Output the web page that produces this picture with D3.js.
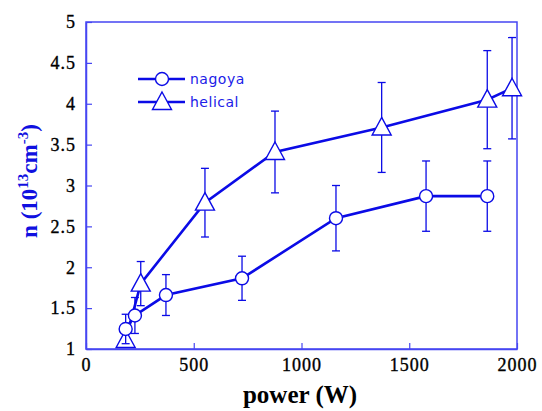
<!DOCTYPE html>
<html><head><meta charset="utf-8">
<script src="https://cdn.jsdelivr.net/npm/d3@7"></script>
<style>body{margin:0;background:#fff}</style>
</head><body><svg id="c" width="542" height="411"></svg>
<script>
const xTicks = [0, 500, 1000, 1500, 2000];
const yTicks = [1, 1.5, 2, 2.5, 3, 3.5, 4, 4.5, 5];
const yTickLabels = ["1", "1.5", "2", "2.5", "3", "3.5", "4", "4.5", "5"];

const nagoyaPower = [184, 227, 371, 724, 1160, 1578, 1862];
const nagoyaN     = [1.245, 1.41, 1.66, 1.865, 2.6, 2.87, 2.87];
const nagoyaErr   = [0.18, 0.22, 0.25, 0.27, 0.4, 0.43, 0.43];

const helicalPower = [184, 254, 552, 877, 1372, 1862, 1977];
const helicalN     = [1.11, 1.80, 2.79, 3.41, 3.71, 4.05, 4.19];
const helicalErr   = [0.08, 0.27, 0.42, 0.5, 0.55, 0.6, 0.62];

const seriesNames = ["nagoya", "helical"];

const svg = d3.select("#c");
const L = 86, R = 517, T = 22, B = 349;
const x = d3.scaleLinear().domain([0, 2000]).range([L, R]);
const y = d3.scaleLinear().domain([1, 5]).range([B, T]);
const lineCol = "#0b0be6", frameCol = "#4646f2";

// frame
svg.append("rect").attr("x", L).attr("y", T).attr("width", R - L).attr("height", B - T)
  .attr("fill", "none").attr("stroke", frameCol).attr("stroke-width", 1.5);

// axes with inward ticks
const xa = svg.append("g").attr("transform", `translate(0,${B})`)
  .call(d3.axisBottom(x).tickValues(xTicks).tickSizeInner(-6).tickSizeOuter(0).tickPadding(9).tickFormat(d3.format("d")));
const ya = svg.append("g").attr("transform", `translate(${L},0)`)
  .call(d3.axisLeft(y).tickValues(yTicks).tickSizeInner(-6).tickSizeOuter(0).tickPadding(10).tickFormat((d, i) => yTickLabels[i]));
[xa, ya].forEach(a => {
  a.select(".domain").attr("stroke", frameCol).attr("stroke-width", 1.5);
  a.selectAll(".tick line").attr("stroke", frameCol).attr("stroke-width", 1.2);
  a.selectAll(".tick text").attr("fill", "#000").attr("font-family", "Liberation Serif")
    .attr("font-size", 18).attr("letter-spacing", "1px").attr("stroke", "#000").attr("stroke-width", 0.35);
});
xa.selectAll(".tick text").attr("dy", "0.71em");

// titles
svg.append("text").attr("x", 300).attr("y", 403).attr("text-anchor", "middle")
  .attr("font-family", "Liberation Serif").attr("font-weight", "bold").attr("font-size", 25)
  .attr("fill", "#000").text("power (W)");
const yt = svg.append("text").attr("transform", "translate(37,181) rotate(-90)").attr("text-anchor", "middle")
  .attr("font-family", "Liberation Serif").attr("font-weight", "bold").attr("font-size", 23).attr("fill", "#1010e0");
yt.append("tspan").text("n (10");
yt.append("tspan").attr("font-size", 15).attr("dy", -9).text("13");
yt.append("tspan").attr("dy", 9).text("cm");
yt.append("tspan").attr("font-size", 15).attr("dy", -9).text("-3");
yt.append("tspan").attr("dy", 9).text(")");

const triPath = (cx, cy) => {
  const s = 10;
  return `M${cx},${cy - s} L${cx + s * 0.95},${cy + s * 0.75} L${cx - s * 0.95},${cy + s * 0.75} Z`;
};

function drawSeries(px, py, pe, kind) {
  const g = svg.append("g");
  const data = px.map((p, i) => ({p, n: py[i], e: pe[i]}));
  data.forEach(d => {
    const cx = x(d.p);
    g.append("line").attr("x1", cx).attr("x2", cx).attr("y1", y(d.n - d.e)).attr("y2", y(d.n + d.e))
      .attr("stroke", lineCol).attr("stroke-width", 1.3);
    [d.n - d.e, d.n + d.e].forEach(v => g.append("line").attr("x1", cx - 4).attr("x2", cx + 4)
      .attr("y1", y(v)).attr("y2", y(v)).attr("stroke", lineCol).attr("stroke-width", 1.3));
  });
  g.append("path").datum(data).attr("fill", "none").attr("stroke", lineCol).attr("stroke-width", 2.6)
    .attr("d", d3.line().x(d => x(d.p)).y(d => y(d.n)));
  data.forEach(d => {
    if (kind === "circle") g.append("circle").attr("cx", x(d.p)).attr("cy", y(d.n)).attr("r", 6.5)
      .attr("fill", "#fff").attr("stroke", lineCol).attr("stroke-width", 1.4);
    else g.append("path").attr("d", triPath(x(d.p), y(d.n))).attr("fill", "#fff")
      .attr("stroke", lineCol).attr("stroke-width", 1.4);
  });
}
drawSeries(helicalPower, helicalN, helicalErr, "tri");
drawSeries(nagoyaPower, nagoyaN, nagoyaErr, "circle");

// legend
const legY = [79, 102];
seriesNames.forEach((nm, i) => {
  svg.append("line").attr("x1", 138).attr("x2", 185).attr("y1", legY[i]).attr("y2", legY[i])
    .attr("stroke", lineCol).attr("stroke-width", 2.6);
  if (i === 0) svg.append("circle").attr("cx", 162).attr("cy", legY[i]).attr("r", 6.5)
    .attr("fill", "#fff").attr("stroke", lineCol).attr("stroke-width", 1.4);
  else svg.append("path").attr("d", triPath(162, legY[i])).attr("fill", "#fff")
    .attr("stroke", lineCol).attr("stroke-width", 1.4);
  svg.append("text").attr("x", 190).attr("y", legY[i] + 5).attr("font-family", "DejaVu Sans")
    .attr("font-size", 14).attr("letter-spacing", "0.5px").attr("fill", "#2020e8").text(nm);
});
</script></body></html>
